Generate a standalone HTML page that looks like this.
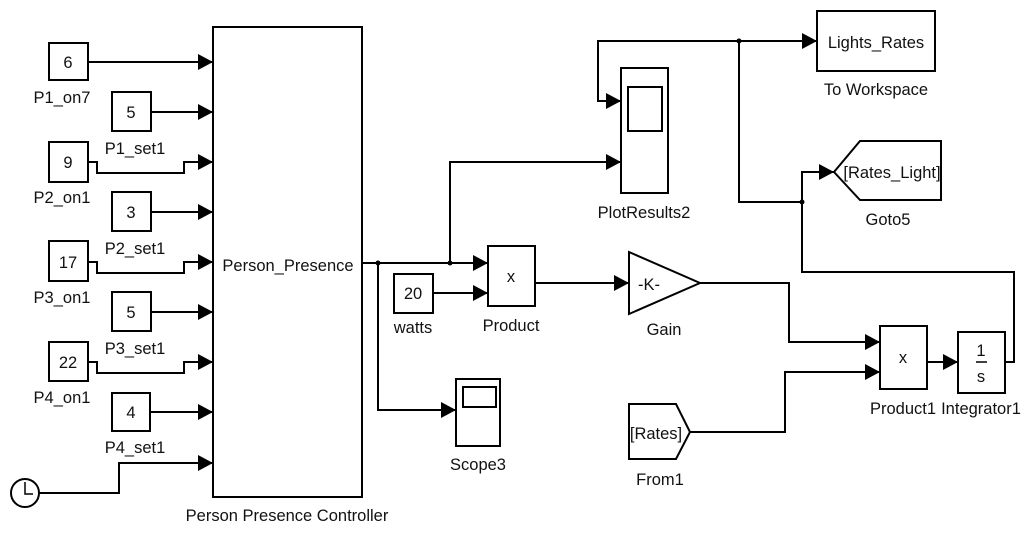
<!DOCTYPE html>
<html><head><meta charset="utf-8"><style>
body{margin:0;background:#fff}
svg{display:block}
text{font-family:"Liberation Sans",sans-serif;font-size:16.5px;fill:#111}
</style></head><body>
<svg width="1024" height="533" viewBox="0 0 1024 533" xmlns="http://www.w3.org/2000/svg">
<defs>
<marker id="a" markerWidth="15" markerHeight="16" refX="15" refY="8" orient="auto" markerUnits="userSpaceOnUse">
<path d="M0,0 L15,8 L0,16 z" fill="#000"/></marker>
</defs>
<g fill="none" stroke="#000" stroke-width="2">
<rect x="49" y="43" width="39" height="37"/>
<rect x="112" y="92" width="39" height="39"/>
<rect x="49" y="142" width="39" height="40"/>
<rect x="112" y="192" width="39" height="39"/>
<rect x="49" y="241" width="39" height="40"/>
<rect x="112" y="292" width="39" height="39"/>
<rect x="49" y="342" width="39" height="39"/>
<rect x="112" y="393" width="38" height="38"/>
<circle cx="25" cy="493" r="14"/>
<path d="M25,482 V494 H33" stroke-width="1.5"/>
<rect x="213" y="27" width="149" height="470"/>
<path d="M88,62 H213" marker-end="url(#a)"/>
<path d="M151,112 H213" marker-end="url(#a)"/>
<path d="M88,162 H97 V173 H184 V162 H213" marker-end="url(#a)"/>
<path d="M151,212 H213" marker-end="url(#a)"/>
<path d="M88,262 H97 V273 H184 V262 H213" marker-end="url(#a)"/>
<path d="M151,312 H213" marker-end="url(#a)"/>
<path d="M88,362 H97 V373 H184 V362 H213" marker-end="url(#a)"/>
<path d="M150,412 H213" marker-end="url(#a)"/>
<path d="M39,493 H119 V463 H213" marker-end="url(#a)"/>
<path d="M362,263 H488" marker-end="url(#a)"/>
<path d="M378,263 V410 H456" marker-end="url(#a)"/>
<path d="M450,263 V162 H621" marker-end="url(#a)"/>
<rect x="394" y="274" width="39" height="39"/>
<path d="M433,293 H488" marker-end="url(#a)"/>
<rect x="488" y="246" width="47" height="60"/>
<path d="M535,283 H629" marker-end="url(#a)"/>
<path d="M629,252 L700,283 L629,314 Z"/>
<rect x="456" y="379" width="44" height="67"/>
<rect x="463" y="387" width="33" height="20"/>
<rect x="621" y="68" width="47" height="125"/>
<rect x="628" y="87" width="34" height="44"/>
<path d="M700,283 H789 V342 H880" marker-end="url(#a)"/>
<path d="M690,432 H785 V372 H880" marker-end="url(#a)"/>
<path d="M629,404 H676 L690,432 L676,459 H629 Z"/>
<rect x="880" y="326" width="47" height="63"/>
<path d="M927,362 H958" marker-end="url(#a)"/>
<rect x="958" y="332" width="47" height="61"/>
<path d="M1005,362 H1014 V272 H802 V172 H834" marker-end="url(#a)"/>
<path d="M802,202 H739 V41" />
<path d="M739,41 H817" marker-end="url(#a)"/>
<path d="M739,41 H598 V101 H621" marker-end="url(#a)"/>
<rect x="817" y="11" width="118" height="60"/>
<path d="M834,172 L860,141 H941 V200 H860 Z"/>
<path d="M976,362 H987" stroke-width="1.5"/>
</g>
<g fill="#000">
<circle cx="378" cy="263" r="2.5"/><circle cx="450" cy="263" r="2.5"/>
<circle cx="739" cy="41" r="2.5"/><circle cx="802" cy="202" r="2.5"/>
</g>
<g text-anchor="middle">
<text x="68" y="68">6</text><text x="131" y="118">5</text><text x="68" y="168">9</text>
<text x="131" y="218">3</text><text x="68" y="268">17</text><text x="131" y="318">5</text>
<text x="68" y="368">22</text><text x="131" y="418">4</text>
<text x="62" y="103">P1_on7</text><text x="135" y="154">P1_set1</text>
<text x="62" y="203">P2_on1</text><text x="135" y="254">P2_set1</text>
<text x="62" y="303">P3_on1</text><text x="135" y="354">P3_set1</text>
<text x="62" y="403">P4_on1</text><text x="135" y="453">P4_set1</text>
<text x="288" y="271">Person_Presence</text>
<text x="287" y="521">Person Presence Controller</text>
<text x="413" y="299">20</text><text x="413" y="333">watts</text>
<text x="511" y="282" font-size="19">x</text><text x="511" y="331">Product</text>
<text x="478" y="470">Scope3</text>
<text x="644" y="218">PlotResults2</text>
<text x="649" y="290">-K-</text><text x="664" y="335">Gain</text>
<text x="876" y="48">Lights_Rates</text><text x="876" y="95">To Workspace</text>
<text x="892" y="178">[Rates_Light]</text><text x="888" y="225">Goto5</text>
<text x="656" y="439">[Rates]</text><text x="660" y="485">From1</text>
<text x="903" y="363" font-size="19">x</text><text x="903" y="414">Product1</text>
<text x="981" y="356">1</text><text x="981" y="382">s</text>
<text x="981" y="414">Integrator1</text>
</g>
</svg>
</body></html>
